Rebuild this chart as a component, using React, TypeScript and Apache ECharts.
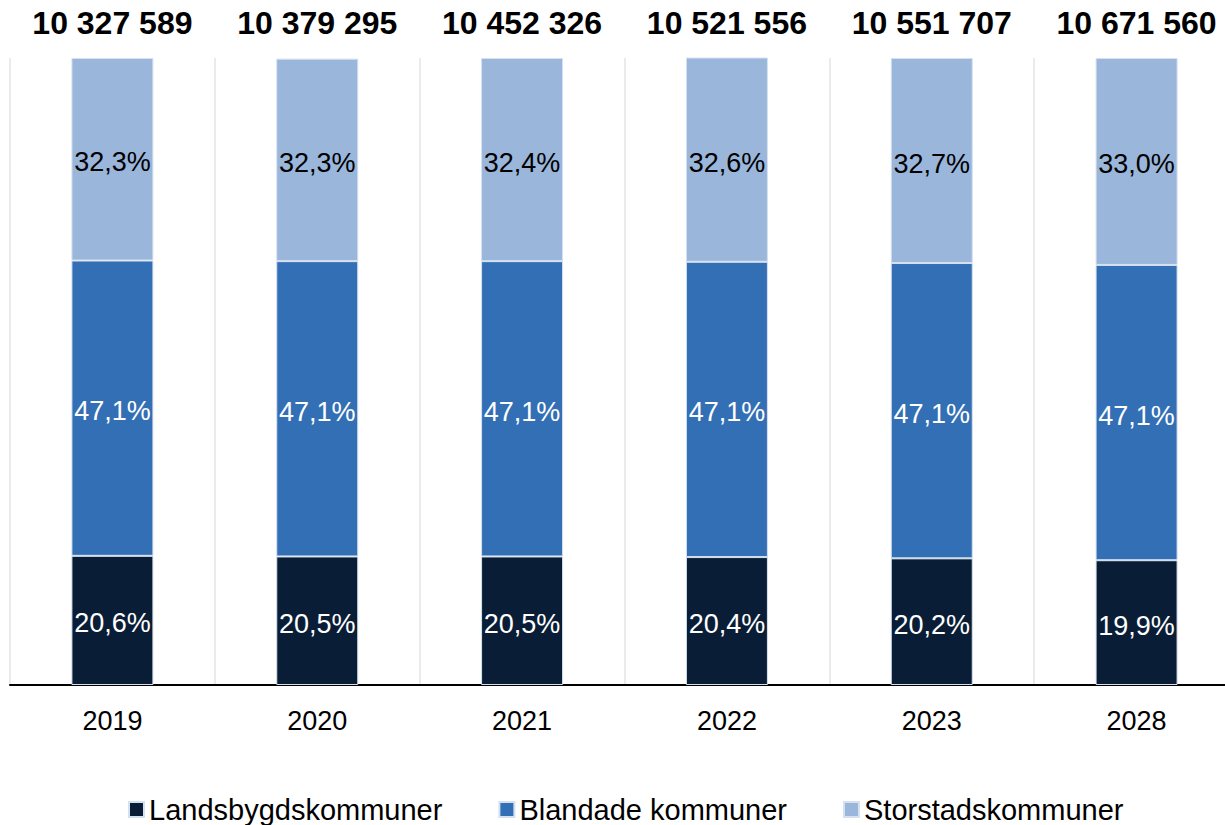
import React, { useEffect, useRef } from "react";
import * as echarts from "echarts";

const years = ["2019", "2020", "2021", "2022", "2023", "2028"];
const totals = [10327589, 10379295, 10452326, 10521556, 10551707, 10671560];
const landsbygd = [20.6, 20.5, 20.5, 20.4, 20.2, 19.9];
const blandade = [47.1, 47.1, 47.1, 47.1, 47.1, 47.1];
const storstad = [32.3, 32.3, 32.4, 32.6, 32.7, 33.0];

const FONT = "'Liberation Sans', Arial, sans-serif";

const fmtPct = (v: number) => v.toFixed(1).replace(".", ",") + "%";
const fmtTotal = (v: number) => String(v).replace(/\B(?=(\d{3})+(?!\d))/g, " ");

export default function App() {
  const ref = useRef<HTMLDivElement>(null);
  useEffect(() => {
    if (!ref.current) return;
    const chart = echarts.init(ref.current, undefined, { renderer: "svg" });
    const border = { borderColor: "#d6e1f0", borderWidth: 1 };
    const pctLabel = (color: string) => ({
      show: true,
      position: "inside",
      color,
      fontSize: 27,
      fontFamily: FONT,
      offset: [0, 3],
      formatter: (p: any) => fmtPct(p.value),
    });
    chart.setOption({
      animation: false,
      textStyle: { fontFamily: FONT },
      grid: { left: 10, right: 0, top: 58, bottom: 140, containLabel: false },
      legend: {
        left: 128,
        top: 795,
        padding: 0,
        icon: "rect",
        itemWidth: 15,
        itemHeight: 15,
        itemGap: 56,
        textStyle: { fontSize: 29, color: "#000", fontFamily: FONT },
        data: ["Landsbygdskommuner", "Blandade kommuner", "Storstadskommuner"],
      },
      xAxis: [
        {
          type: "category",
          data: years,
          axisLine: { lineStyle: { color: "#000", width: 2 } },
          axisTick: { show: false },
          axisLabel: { fontSize: 27, color: "#000", margin: 22, fontFamily: FONT, interval: 0 },
          splitLine: { show: true, interval: 0, lineStyle: { color: "#ebebeb", width: 2 } },
        },
        {
          type: "category",
          position: "top",
          data: totals.map(fmtTotal),
          axisLine: { show: false },
          axisTick: { show: false },
          splitLine: { show: false },
          axisLabel: {
            interval: 0,
            hideOverlap: false,
            fontSize: 32,
            fontWeight: "bold",
            color: "#000",
            margin: 19,
            fontFamily: FONT,
          },
        },
      ],
      yAxis: {
        type: "value",
        min: 0,
        max: 100,
        show: false,
        splitLine: { show: false },
      },
      series: [
        {
          name: "Landsbygdskommuner",
          type: "bar",
          stack: "total",
          barWidth: 82,
          data: landsbygd,
          itemStyle: { color: "#091e36", ...border },
          label: pctLabel("#fff"),
        },
        {
          name: "Blandade kommuner",
          type: "bar",
          stack: "total",
          barWidth: 82,
          data: blandade,
          itemStyle: { color: "#336fb4", ...border },
          label: pctLabel("#fff"),
        },
        {
          name: "Storstadskommuner",
          type: "bar",
          stack: "total",
          barWidth: 82,
          data: storstad,
          itemStyle: { color: "#9ab6db", ...border },
          label: pctLabel("#000"),
        },
      ],
    });
    return () => chart.dispose();
  }, []);
  return (
    <div style={{ position: "absolute", left: 0, top: 0, width: 1225, height: 825, overflow: "hidden" }}>
      <div ref={ref} style={{ width: 1239, height: 825 }} />
    </div>
  );
}
